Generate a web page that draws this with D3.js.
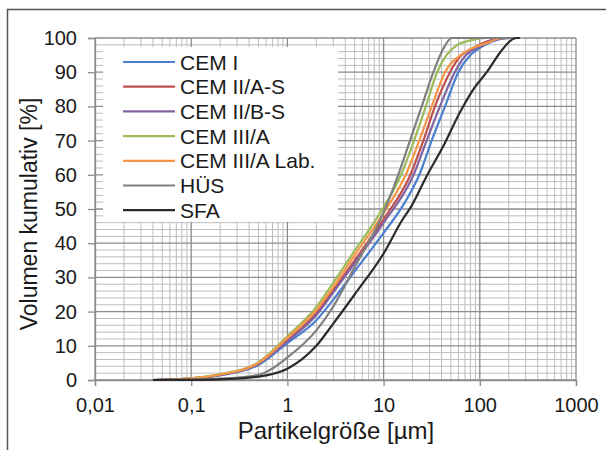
<!DOCTYPE html>
<html>
<head>
<meta charset="utf-8">
<script src="https://cdn.jsdelivr.net/npm/d3@7"></script>
<style>
  body { margin: 0; background: #fff; }
  svg { display: block; font-family: "Liberation Sans", Arial, sans-serif; }
</style>
</head>
<body>
<svg id="chart" width="606" height="450"></svg>
<script>
// measured curves, [particle size µm, cumulative volume %]
const cemI = [[0.04,0],[0.07,0.2],[0.1,0.4],[0.2,1.4],[0.5,4.4],[1,10.8],[2,17.5],[3,23.5],[5,31.8],[10,43],[16.7,52],[23.5,60],[31.6,70],[43.5,80],[59.8,90],[80,95],[110,97.8],[150,99.4],[210,100],[260,100]];
const cemIIAS = [[0.04,0],[0.07,0.2],[0.1,0.45],[0.2,1.5],[0.5,4.8],[1,11.6],[2,19.5],[3,26.2],[5,35],[10,47],[19,60],[25.9,70],[34.2,80],[49,90],[62,94.5],[85,97],[130,99.3],[190,100],[260,100]];
const cemIIBS = [[0.04,0],[0.07,0.2],[0.1,0.45],[0.2,1.5],[0.5,4.7],[1,11.3],[2,19],[3,25.6],[5,34.2],[10,46],[20.5,60],[28,70],[38.5,80],[55,90],[72,95],[100,97.5],[140,99.4],[200,100],[260,100]];
const cemIIIA = [[0.04,0],[0.07,0.2],[0.1,0.5],[0.2,1.7],[0.5,5.2],[1,12.8],[2,21.4],[3,28.5],[5,37.8],[10,50.5],[15.2,60],[20.7,70],[27.5,80],[36,90],[45,95],[57,97.8],[80,99.3],[117,100],[260,100]];
const cemIIIALab = [[0.04,0],[0.07,0.2],[0.1,0.5],[0.2,1.6],[0.5,5],[1,12.3],[2,20.5],[3,27.2],[5,36.5],[10,48.8],[17,60],[23.5,70],[31.6,80],[43.5,90],[67,95.5],[117,98.5],[174,100],[260,100]];
const hus = [[0.04,0],[0.1,0.1],[0.2,0.4],[0.5,1.5],[1,6.6],[2,14.5],[3,21.5],[5,33],[10,49],[14.2,60],[18.8,70],[24.9,80],[32.9,90],[42,97],[51,100],[260,100]];
const sfa = [[0.04,0],[0.1,0.05],[0.2,0.2],[0.5,1],[1,3.3],[2,10],[3,16.5],[5,25],[10,37],[15.4,46.5],[19.6,51],[28,59.6],[41.8,68.4],[62,78.2],[85.7,85],[118,90],[162,95.7],[206,99.1],[240,100],[260,100]];

const seriesNames = ["CEM I", "CEM II/A-S", "CEM II/B-S", "CEM III/A", "CEM III/A Lab.", "HÜS", "SFA"];
const seriesData = [cemI, cemIIAS, cemIIBS, cemIIIA, cemIIIALab, hus, sfa];
const seriesColors = ["#4a80cf", "#c0504d", "#8064a2", "#9bbb59", "#f79646", "#7f7f7f", "#2b2b2b"];

const xTicks = [0.01, 0.1, 1, 10, 100, 1000];
const xTickLabels = ["0,01", "0,1", "1", "10", "100", "1000"];
const yTicks = [0, 10, 20, 30, 40, 50, 60, 70, 80, 90, 100];

const svg = d3.select("#chart");
const margin = { top: 38, left: 95, right: 30, bottom: 70 };
const width = 576 - margin.left, height = 380 - margin.top;

// frame round the figure
svg.append("path")
    .attr("d", "M7.5,450 V9.5 H606")
    .attr("fill", "none")
    .attr("stroke", "#555")
    .attr("stroke-width", 1.5);

const g = svg.append("g").attr("transform", `translate(${margin.left},${margin.top})`);

const x = d3.scaleLog().domain([0.01, 1000]).range([0, width]);
const y = d3.scaleLinear().domain([0, 100]).range([height, 0]);

// minor grid
const minorX = [];
for (let e = -2; e < 3; e++) for (let k = 2; k <= 9; k++) minorX.push(k * Math.pow(10, e));
const minorY = d3.range(0, 101, 2).filter(v => v % 10 !== 0);

g.append("g").selectAll("line").data(minorX).join("line")
    .attr("x1", d => x(d)).attr("x2", d => x(d))
    .attr("y1", 0).attr("y2", height)
    .attr("stroke", "#bdbdbd").attr("stroke-width", 1);
g.append("g").selectAll("line").data(minorY).join("line")
    .attr("x1", 0).attr("x2", width)
    .attr("y1", d => y(d)).attr("y2", d => y(d))
    .attr("stroke", "#bdbdbd").attr("stroke-width", 1);

// major grid
g.append("g").selectAll("line").data(xTicks).join("line")
    .attr("x1", d => x(d)).attr("x2", d => x(d))
    .attr("y1", 0).attr("y2", height)
    .attr("stroke", "#8c8c8c").attr("stroke-width", 1.3);
g.append("g").selectAll("line").data(yTicks).join("line")
    .attr("x1", 0).attr("x2", width)
    .attr("y1", d => y(d)).attr("y2", d => y(d))
    .attr("stroke", "#8c8c8c").attr("stroke-width", 1.3);

// axes
const xAxis = g.append("g")
    .attr("transform", `translate(0,${height})`)
    .call(d3.axisBottom(x).tickValues(xTicks).tickFormat((d, i) => xTickLabels[i]).tickSizeOuter(0).tickSize(6).tickPadding(12));
const yAxis = g.append("g")
    .call(d3.axisLeft(y).tickValues(yTicks).tickSizeOuter(0).tickSize(7).tickPadding(11));

[xAxis, yAxis].forEach(a => {
    a.select(".domain").attr("stroke", "#8c8c8c").attr("stroke-width", 1.3);
    a.selectAll(".tick line").attr("stroke", "#8c8c8c").attr("stroke-width", 1.3);
    a.selectAll("text").attr("font-size", 20).attr("fill", "#1a1a1a")
        .style("font-family", "'Liberation Sans', Arial, sans-serif");
});

// legend box sits on the grid, drawn before the lines
const legend = svg.append("g");
legend.append("rect")
    .attr("x", 103).attr("y", 47).attr("width", 235).attr("height", 175)
    .attr("fill", "#fff");

// curves
const line = d3.line()
    .x(d => x(d[0]))
    .y(d => y(d[1]))
    .curve(d3.curveMonotoneX);

g.append("g").selectAll("path").data(seriesData).join("path")
    .attr("d", line)
    .attr("fill", "none")
    .attr("stroke", (d, i) => seriesColors[i])
    .attr("stroke-width", 2.2);

// legend entries
seriesNames.forEach((name, i) => {
    const ly = 62 + i * 24.7;
    legend.append("line")
        .attr("x1", 123).attr("x2", 175)
        .attr("y1", ly).attr("y2", ly)
        .attr("stroke", seriesColors[i])
        .attr("stroke-width", 2.2);
    legend.append("text")
        .attr("x", 180).attr("y", ly + 7.5)
        .attr("font-size", 21)
        .attr("fill", "#1a1a1a")
        .text(name);
});

// axis titles
svg.append("text")
    .attr("x", 336).attr("y", 439)
    .attr("text-anchor", "middle")
    .attr("font-size", 24)
    .attr("fill", "#1a1a1a")
    .text("Partikelgröße [µm]");

svg.append("text")
    .attr("transform", "translate(37,214) rotate(-90)")
    .attr("text-anchor", "middle")
    .attr("font-size", 23)
    .attr("fill", "#1a1a1a")
    .text("Volumen kumulativ [%]");
</script>
</body>
</html>
